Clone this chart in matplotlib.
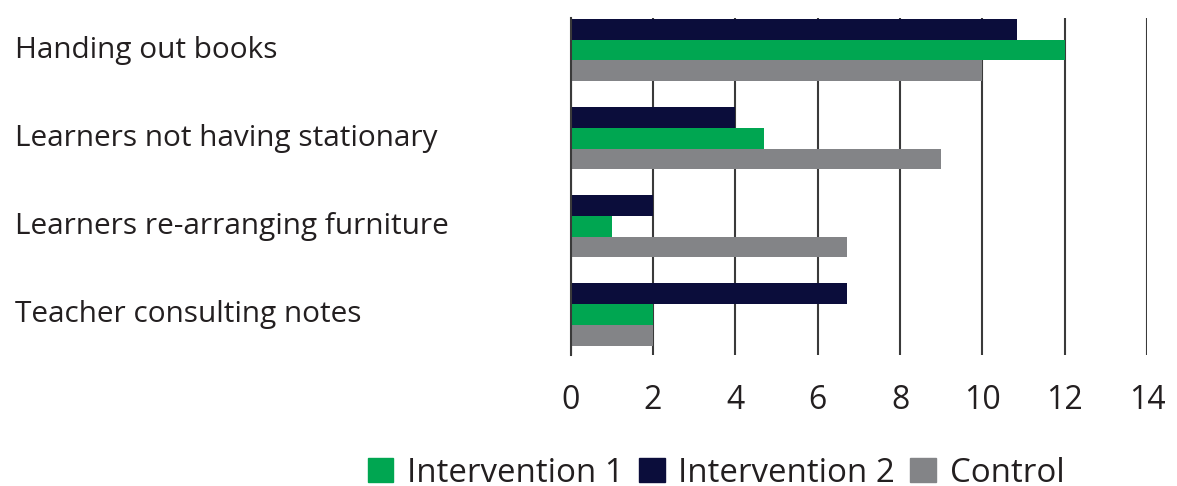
import matplotlib
matplotlib.use("Agg")
import matplotlib.pyplot as plt
import matplotlib.transforms as mtransforms
from matplotlib.patches import Patch
import numpy as np

categories = ["Handing out books", "Learners not having stationary",
              "Learners re-arranging furniture", "Teacher consulting notes"]
intervention1 = [12, 4.7, 1, 2]
intervention2 = [10.85, 4, 2, 6.7]
control = [10, 9, 6.7, 2]
xticks = [0, 2, 4, 6, 8, 10, 12, 14]

c_i1 = "#00A651"
c_i2 = "#0B0D3B"
c_ctrl = "#838487"
txt = "#231F20"
grid_c = "#3A3A3A"

plt.rcParams['font.family'] = ['Open Sans', 'DejaVu Sans']

W, H = 1177, 486
fig = plt.figure(figsize=(W / 100, H / 100), dpi=100)
x0, x1 = 570.7, 1147
ytop, ybot = 18.3, 355
ax = fig.add_axes([x0 / W, 1 - ybot / H, (x1 - x0) / W, (ybot - ytop) / H])

pos = np.arange(len(categories))
h = 0.235
ax.barh(pos - h, intervention2, height=h, color=c_i2, zorder=3)
ax.barh(pos, intervention1, height=h, color=c_i1, zorder=3)
ax.barh(pos + h, control, height=h, color=c_ctrl, zorder=3)

ax.set_xlim(0, 14)
ax.set_ylim(3.46, -0.36)
ax.set_xticks(xticks)
ax.set_xticklabels([str(t) for t in xticks])
ax.set_yticks([])
ax.xaxis.grid(True, color=grid_c, linewidth=1.5, zorder=0)
ax.set_axisbelow(True)
for s in ["top", "right", "bottom"]:
    ax.spines[s].set_visible(False)
ax.spines["left"].set_color(grid_c)
ax.spines["left"].set_linewidth(1.5)
ax.spines["left"].set_zorder(5)
ax.tick_params(axis="x", length=0, pad=21, labelsize=23, labelcolor=txt)

# category labels, left aligned
blend = mtransforms.blended_transform_factory(fig.transFigure, ax.transData)
for i, cat in enumerate(categories):
    ax.text(15 / W, i, cat, transform=blend,
            ha="left", va="center", fontsize=21.4, color=txt)

handles = [Patch(color=c_i1, label="Intervention 1"),
           Patch(color=c_i2, label="Intervention 2"),
           Patch(color=c_ctrl, label="Control")]
fig.legend(handles=handles, loc="center", bbox_to_anchor=(716 / W, 1 - 473 / H),
           ncol=3, frameon=False, fontsize=23.8, handlelength=0.78, handleheight=0.78,
           handletextpad=0.42, columnspacing=0.45, labelcolor=txt, borderpad=0, borderaxespad=0)

fig.savefig("out.png", dpi=100)
